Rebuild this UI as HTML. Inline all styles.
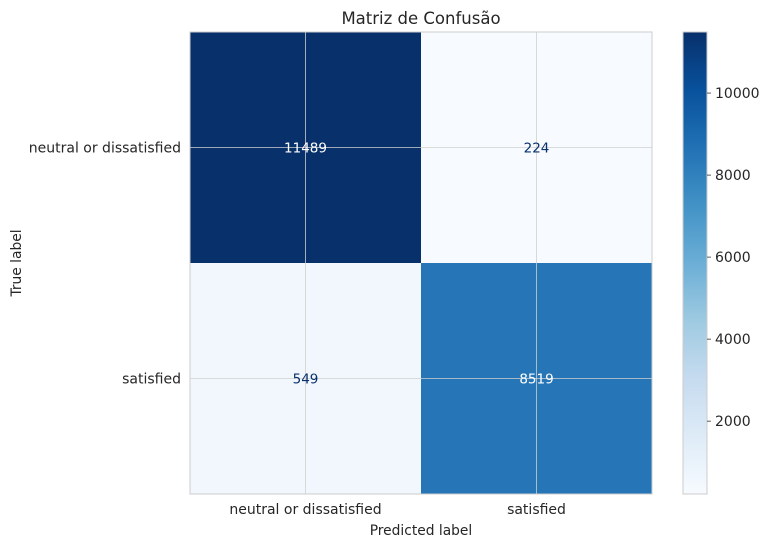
<!DOCTYPE html>
<html><head><meta charset="utf-8"><style>
body{margin:0;background:#fff;font-family:"Liberation Sans","DejaVu Sans",sans-serif}
</style></head><body>
<svg id="c" width="770" height="547" xmlns="http://www.w3.org/2000/svg" font-family="DejaVu Sans, Liberation Sans, sans-serif"></svg>
<script>
const trueLabels=["neutral or dissatisfied","satisfied"];
const predLabels=["neutral or dissatisfied","satisfied"];
const row0=[11489,224];
const row1=[549,8519];
const cbTicks=[2000,4000,6000,8000,10000];
const rows=[row0,row1];
const NS="http://www.w3.org/2000/svg";
const svg=document.getElementById('c');
function mk(t,a,p){const e=document.createElementNS(NS,t);for(const k in a)e.setAttribute(k,a[k]);(p||svg).appendChild(e);return e;}
const X0=190,Y0=32,W=462,H=462;
const all=rows.flat();const vmin=Math.min(...all),vmax=Math.max(...all);
const stops=["#f7fbff","#deebf7","#c6dbef","#9ecae1","#6baed6","#4292c6","#2171b5","#08519c","#08306b"];
function hex(h){return[1,3,5].map(i=>parseInt(h.substr(i,2),16));}
function cmap(v){let t=(v-vmin)/(vmax-vmin);t=Math.max(0,Math.min(1,t));const s=t*8,i=Math.min(7,Math.floor(s)),f=s-i;const a=hex(stops[i]),b=hex(stops[i+1]);return`rgb(${a.map((x,k)=>Math.round(x+(b[k]-x)*f)).join(',')})`;}
const cw=W/predLabels.length,ch=H/trueLabels.length;
rows.forEach((r,i)=>r.forEach((v,j)=>{
 const e=mk('rect',{x:X0+j*cw,y:Y0+i*ch,width:cw,height:ch,fill:cmap(v)});
 
 
}));
predLabels.forEach((l,j)=>{const x=X0+(j+.5)*cw;mk('line',{x1:x,x2:x,y1:Y0,y2:Y0+H,stroke:'#d0d0d0','stroke-width':0.8});});
trueLabels.forEach((l,i)=>{const y=Y0+(i+.5)*ch;mk('line',{x1:X0,x2:X0+W,y1:y,y2:y,stroke:'#d0d0d0','stroke-width':0.8});});
rows.forEach((r,i)=>r.forEach((v,j)=>{
 const t=mk('text',{x:X0+(j+.5)*cw,y:Y0+(i+.5)*ch+5,'text-anchor':'middle','font-size':13.5,fill:(v-vmin)/(vmax-vmin)>0.5?'#ffffff':'#08306b'});
 t.textContent=v;
 
 
}));
mk('rect',{x:X0,y:Y0,width:W,height:H,fill:'none',stroke:'#cccccc','stroke-width':1});
predLabels.forEach((l,j)=>{const t=mk('text',{x:X0+(j+.5)*cw,y:514,'text-anchor':'middle','font-size':14,fill:'#262626'});t.textContent=l;});
trueLabels.forEach((l,i)=>{const t=mk('text',{x:181,y:Y0+(i+.5)*ch+5,'text-anchor':'end','font-size':14,fill:'#262626'});t.textContent=l;});
let t=mk('text',{x:421,y:535,'text-anchor':'middle','font-size':13.8,fill:'#262626'});t.textContent='Predicted label';
t=mk('text',{x:0,y:0,'text-anchor':'middle','font-size':13.8,fill:'#262626',transform:'translate(21,263) rotate(-90)'});t.textContent='True label';
t=mk('text',{x:421,y:24,'text-anchor':'middle','font-size':16.5,fill:'#262626'});t.textContent='Matriz de Confusão';
const CX=683,CW=24;
const defs=mk('defs',{});const g=mk('linearGradient',{id:'cg',x1:0,y1:1,x2:0,y2:0},defs);
stops.forEach((s,k)=>mk('stop',{offset:k/8,'stop-color':s},g));
const cb=mk('rect',{x:CX,y:Y0,width:CW,height:H,fill:'url(#cg)',stroke:'#cccccc','stroke-width':1});

cbTicks.forEach(v=>{const y=Y0+H-(v-vmin)/(vmax-vmin)*H;mk('line',{x1:CX+CW,x2:CX+CW+4,y1:y,y2:y,stroke:'#333','stroke-width':0.8});
 const tt=mk('text',{x:CX+CW+8,y:y+5,'font-size':14,fill:'#262626'});tt.textContent=v;});
</script>
</body></html>
